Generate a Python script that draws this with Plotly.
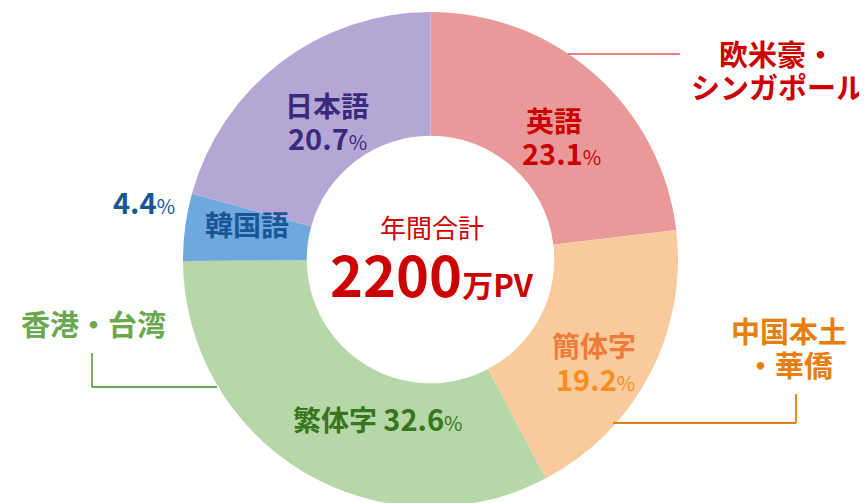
import plotly.graph_objects as go

# page is rendered with an 8px body margin; figure is sized so it fills the window
OFF = 8
W, H = 867 - OFF, 512

# ---- data ----
languages = ["英語", "簡体字", "繁体字", "韓国語", "日本語"]
shares = [23.1, 19.2, 32.6, 4.4, 20.7]
regions = ["欧米豪・\nシンガポール", "中国本土\n・華僑", "香港・台湾"]
center_title = "年間合計"
total_value = 2200
total_unit = "万PV"

# ---- styles ----
slice_colors = ["#EA9999", "#F9CB9C", "#B6D7A8", "#6FA8DC", "#B4A7D6"]
name_colors = ["#CC0000", "#EE7B3A", "#38761D", "#1A5596", "#3A2A7C"]
value_colors = ["#CC0000", "#F98C1E", "#38761D", "#1A5596", "#3A2A7C"]
region_colors = ["#CC0000", "#E67E10", "#6AA84F"]
FONT = "Noto Sans CJK JP"


def px(x):
    return (x - OFF) / W


def py(y):
    return 1 - (y - OFF) / H


fig = go.Figure()

cx, cy, r = 430.5, 259.5, 247.5
fig.add_trace(go.Pie(
    labels=languages, values=shares, hole=0.5, sort=False,
    direction="clockwise", rotation=0,
    marker=dict(colors=slice_colors, line=dict(width=0)),
    textinfo="none", hoverinfo="skip", showlegend=False,
    domain=dict(x=[px(cx - r), px(cx + r)], y=[py(cy + r), py(cy - r)]),
))

annotations = []


def add_text(text, x, y, size, color, bold=False):
    t = f"<b>{text}</b>" if bold else text
    annotations.append(dict(
        text=t, x=px(x), y=py(y), xref="paper", yref="paper",
        xanchor="center", yanchor="middle", showarrow=False,
        font=dict(family=FONT, size=size, color=color),
    ))


def value_text(v, pct_size=20):
    return f"<b>{v}</b><span style='font-size:{pct_size}px'>%</span>"


# slice labels: (name pos, value pos); None = same line
name_pos = [(554, 120), (594, 345), None, (247, 224), (327, 105)]
value_pos = [(561, 152), (595, 378), None, (144, 201), (327, 137)]

for i, lab in enumerate(languages):
    if name_pos[i] is None:
        annotations.append(dict(
            text=f"<b>{lab}</b> <span style='font-size:29px'>{value_text(shares[i])}</span>",
            x=px(377), y=py(418), xref="paper", yref="paper",
            xanchor="center", yanchor="middle", showarrow=False,
            font=dict(family=FONT, size=28, color=name_colors[i]),
        ))
    else:
        add_text(lab, *name_pos[i], 28, name_colors[i], bold=True)
        add_text(value_text(shares[i]), *value_pos[i], 29, value_colors[i])

# region labels
region_pos = [[(777, 53), (778, 86)], [(789, 330), (789, 364)], [(93, 323)]]
for i, reg in enumerate(regions):
    for line, pos in zip(reg.split("\n"), region_pos[i]):
        add_text(line, *pos, 29, region_colors[i], bold=True)

# center text
add_text(center_title, 432, 226, 26, "#CC0000")
annotations.append(dict(
    text=f"<b>{total_value}</b><b><span style='font-size:31px'>{total_unit}</span></b>",
    x=px(432), y=py(272), xref="paper", yref="paper", xanchor="center", yanchor="middle",
    showarrow=False, font=dict(family=FONT, size=56, color="#CC0000"),
))

# leader lines
shapes = []


def seg(x0, y0, x1, y1, color, w=1.8):
    shapes.append(dict(type="line", xref="paper", yref="paper",
                       x0=px(x0), y0=py(y0), x1=px(x1), y1=py(y1),
                       line=dict(color=color, width=w)))


seg(568, 54, 680, 54, "#E05A5A", 1.5)
seg(613, 423, 796, 423, "#E67E10")
seg(796, 394, 796, 423, "#E67E10")
seg(92, 353, 92, 387, "#6AA84F")
seg(92, 387, 217, 387, "#6AA84F")

fig.update_layout(
    width=W, height=H, margin=dict(l=0, r=0, t=0, b=0),
    paper_bgcolor="white", plot_bgcolor="white",
    annotations=annotations, shapes=shapes,
    font=dict(family=FONT),
)

fig.write_html("out.html")
